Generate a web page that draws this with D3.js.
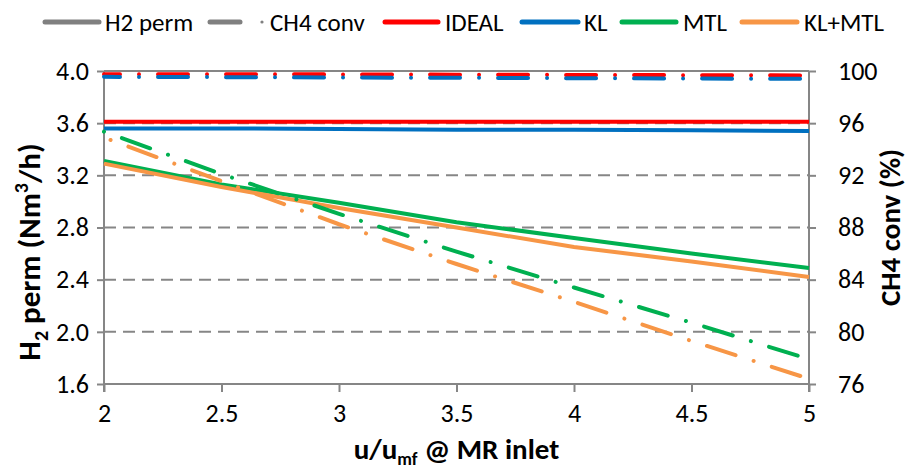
<!DOCTYPE html>
<html>
<head>
<meta charset="utf-8">
<script src="https://cdn.jsdelivr.net/npm/d3@7"></script>
<style>
  body { margin: 0; background: #fff; }
  svg { font-family: Carlito, Calibri, Lato, sans-serif; }
</style>
</head>
<body>
<svg id="chart" width="911" height="472"></svg>
<script>
// data
const xVals = [2, 2.5, 3, 3.5, 4, 4.5, 5];
const seriesNames = ["IDEAL", "KL", "MTL", "KL+MTL"];
const idealH2 = [3.61, 3.61, 3.61, 3.61, 3.61, 3.61, 3.61];
const klH2 = [3.56, 3.56, 3.555, 3.55, 3.55, 3.545, 3.54];
const mtlH2 = [3.31, 3.13, 2.99, 2.84, 2.72, 2.60, 2.49];
const klmtlH2 = [3.29, 3.11, 2.95, 2.80, 2.65, 2.54, 2.42];
const idealCH4 = [99.76, 99.75, 99.74, 99.72, 99.70, 99.68, 99.66];
const klCH4 = [99.55, 99.53, 99.50, 99.48, 99.45, 99.42, 99.40];
const mtlCH4 = [95.35, 92.1, 89.05, 86.15, 83.4, 80.7, 77.9];
const klmtlCH4 = [94.9, 91.55, 88.25, 85.2, 82.3, 79.3, 76.4];
const xTicks = [2, 2.5, 3, 3.5, 4, 4.5, 5];
const leftTicks = [1.6, 2.0, 2.4, 2.8, 3.2, 3.6, 4.0];
const rightTicks = [76, 80, 84, 88, 92, 96, 100];

const colors = {"IDEAL": "#ff0000", "KL": "#0070c0", "MTL": "#00b050", "KL+MTL": "#f79646"};
const gray = "#868686";

let svg = d3.select("#chart");
let margin = {top: 71, right: 102, bottom: 88, left: 104},
  width = 911 - margin.left - margin.right,
  height = 472 - margin.top - margin.bottom;

let x = d3.scaleLinear().domain([2, 5]).range([0, width]);
let yL = d3.scaleLinear().domain([1.6, 4.0]).range([height, 0]);
let yR = d3.scaleLinear().domain([76, 100]).range([height, 0]);

let g = svg.append("g")
  .attr("transform", "translate(" + margin.left + "," + margin.top + ")");

// gridlines
g.append("g")
  .selectAll("line")
  .data(leftTicks.filter(d => d > 1.6))
  .enter().append("line")
  .attr("x1", 0).attr("x2", width)
  .attr("y1", d => yL(d)).attr("y2", d => yL(d))
  .attr("stroke", gray)
  .attr("stroke-width", 2)
  .attr("stroke-dasharray", d => d === 4.0 ? null : "12,7");

// axes
let axX = g.append("g")
  .attr("transform", "translate(0," + height + ")")
  .call(d3.axisBottom(x).tickValues(xTicks).tickSize(8).tickPadding(12).tickFormat(d3.format("")));
let axL = g.append("g")
  .call(d3.axisLeft(yL).tickValues(leftTicks).tickSize(7).tickPadding(8).tickFormat(d3.format(".1f")));
let axR = g.append("g")
  .attr("transform", "translate(" + width + ",0)")
  .call(d3.axisRight(yR).tickValues(rightTicks).tickSize(7).tickPadding(22).tickFormat(d3.format("")));

[axX, axL, axR].forEach(a => {
  a.select(".domain").attr("stroke", gray).attr("stroke-width", 2);
  a.selectAll(".tick line").attr("stroke", gray).attr("stroke-width", 2);
  a.selectAll(".tick text").attr("fill", "#000").style("font-size", "26px")
    .style("font-family", "Carlito, Calibri, Lato, sans-serif");
});
axX.select(".domain").attr("d", "M0,0H" + width);
axL.select(".domain").attr("d", "M0,0V" + (height + 8));
axR.select(".domain").attr("d", "M0,0V" + (height + 8));

// series
const h2Data = [idealH2, klH2, mtlH2, klmtlH2];
const ch4Data = [idealCH4, klCH4, mtlCH4, klmtlCH4];
const dashOffsets = [14, 14, 49, 42];

let lineL = d3.line().x((d, i) => x(xVals[i])).y(d => yL(d));
let lineR = d3.line().x((d, i) => x(xVals[i])).y(d => yR(d));

seriesNames.forEach((name, k) => {
  g.append("path")
    .attr("d", lineL(h2Data[k]))
    .attr("fill", "none")
    .attr("stroke", colors[name])
    .attr("stroke-width", 4);
});
seriesNames.forEach((name, k) => {
  g.append("path")
    .attr("d", lineR(ch4Data[k]))
    .attr("fill", "none")
    .attr("stroke", colors[name])
    .attr("stroke-width", 4)
    .attr("stroke-linecap", "round")
    .attr("stroke-dasharray", "30,19,0.01,19")
    .attr("stroke-dashoffset", dashOffsets[k]);
});

// legend
let legend = svg.append("g").attr("transform", "translate(0,22)");
let legItems = [
  {label: "H2 perm", color: "#808080", x1: 45, x2: 99, tx: 105, dash: false},
  {label: "CH4 conv", color: "#808080", x1: 210, x2: 240, tx: 270, dash: true},
  {label: "IDEAL", color: colors["IDEAL"], x1: 385, x2: 438, tx: 445},
  {label: "KL", color: colors["KL"], x1: 522, x2: 578, tx: 584},
  {label: "MTL", color: colors["MTL"], x1: 622, x2: 676, tx: 683},
  {label: "KL+MTL", color: colors["KL+MTL"], x1: 742, x2: 797, tx: 804}
];
legItems.forEach(it => {
  legend.append("line")
    .attr("x1", it.x1).attr("x2", it.x2)
    .attr("y1", 0).attr("y2", 0)
    .attr("stroke", it.color)
    .attr("stroke-width", 5)
    .attr("stroke-linecap", "round");
  if (it.dash) {
    legend.append("circle").attr("cx", 262).attr("cy", 0).attr("r", 1.6).attr("fill", it.color);
  }
  legend.append("text")
    .attr("x", it.tx).attr("y", 9)
    .style("font-size", "25px")
    .text(it.label);
});

// axis titles
let tL = svg.append("text")
  .attr("transform", "translate(40,252) rotate(-90)")
  .attr("text-anchor", "middle")
  .style("font-size", "31px").style("font-weight", "bold");
tL.append("tspan").text("H");
tL.append("tspan").attr("dy", 8).style("font-size", "20px").text("2");
tL.append("tspan").attr("dy", -8).text(" perm (Nm");
tL.append("tspan").attr("dy", -12).style("font-size", "20px").text("3");
tL.append("tspan").attr("dy", 12).text("/h)");

svg.append("text")
  .attr("transform", "translate(900," + (margin.top + height / 2) + ") rotate(-90)")
  .attr("text-anchor", "middle")
  .style("font-size", "29px").style("font-weight", "bold")
  .text("CH4 conv (%)");

let tX = svg.append("text")
  .attr("x", margin.left + width / 2).attr("y", 459)
  .attr("text-anchor", "middle")
  .style("font-size", "29px").style("font-weight", "bold");
tX.append("tspan").text("u/u");
tX.append("tspan").attr("dy", 6).style("font-size", "18px").text("mf");
tX.append("tspan").attr("dy", -6).text(" @ MR inlet");
</script>
</body>
</html>
